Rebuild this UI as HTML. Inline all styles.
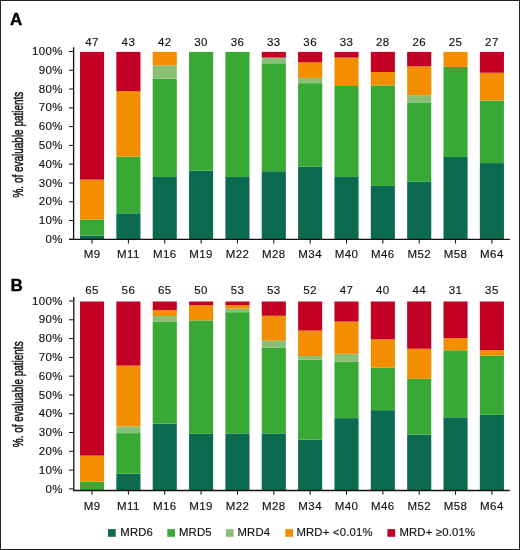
<!DOCTYPE html>
<html><head><meta charset="utf-8"><style>
html,body{margin:0;padding:0;background:#fff;}
body{width:520px;height:550px;overflow:hidden;}
svg{display:block;will-change:transform;}
text{font-family:"Liberation Sans",sans-serif;fill:#111;stroke:#111;stroke-width:0.15px;}
.c{font-size:11.5px;text-anchor:middle;letter-spacing:0.4px;}
.y{font-size:11.5px;text-anchor:end;letter-spacing:0.35px;}
.g{font-size:11.3px;letter-spacing:0.2px;}
.t{font-size:14.8px;text-anchor:middle;stroke:#111;stroke-width:0.5px;}
.L{font-size:17px;font-weight:bold;fill:#000;stroke:#000;stroke-width:0.35px;}
</style></head><body>
<svg width="520" height="550" viewBox="0 0 520 550">
<rect x="0" y="0" width="520" height="550" fill="#fff"/>
<rect x="80.00" y="235.51" width="24.1" height="3.99" fill="#0b6a50"/>
<rect x="80.00" y="219.54" width="24.1" height="15.97" fill="#37a934"/>
<rect x="80.00" y="179.63" width="24.1" height="39.91" fill="#f28e00"/>
<rect x="80.00" y="51.90" width="24.1" height="127.73" fill="#c10024"/>
<text x="92.05" y="45.8" class="c">47</text>
<text x="92.05" y="258.2" class="c">M9</text>
<line x1="92.05" y1="239.3" x2="92.05" y2="243.60000000000002" stroke="#111" stroke-width="1"/>
<rect x="116.35" y="213.32" width="24.1" height="26.18" fill="#0b6a50"/>
<rect x="116.35" y="156.61" width="24.1" height="56.72" fill="#37a934"/>
<rect x="116.35" y="91.17" width="24.1" height="65.44" fill="#f28e00"/>
<rect x="116.35" y="51.90" width="24.1" height="39.27" fill="#c10024"/>
<text x="128.40" y="45.8" class="c">43</text>
<text x="128.40" y="258.2" class="c">M11</text>
<line x1="128.40" y1="239.3" x2="128.40" y2="243.60000000000002" stroke="#111" stroke-width="1"/>
<rect x="152.70" y="176.97" width="24.1" height="62.53" fill="#0b6a50"/>
<rect x="152.70" y="78.70" width="24.1" height="98.27" fill="#37a934"/>
<rect x="152.70" y="65.30" width="24.1" height="13.40" fill="#88c176"/>
<rect x="152.70" y="51.90" width="24.1" height="13.40" fill="#f28e00"/>
<text x="164.75" y="45.8" class="c">42</text>
<text x="164.75" y="258.2" class="c">M16</text>
<line x1="164.75" y1="239.3" x2="164.75" y2="243.60000000000002" stroke="#111" stroke-width="1"/>
<rect x="189.05" y="170.71" width="24.1" height="68.79" fill="#0b6a50"/>
<rect x="189.05" y="51.90" width="24.1" height="118.81" fill="#37a934"/>
<text x="201.10" y="45.8" class="c">30</text>
<text x="201.10" y="258.2" class="c">M19</text>
<line x1="201.10" y1="239.3" x2="201.10" y2="243.60000000000002" stroke="#111" stroke-width="1"/>
<rect x="225.40" y="176.97" width="24.1" height="62.53" fill="#0b6a50"/>
<rect x="225.40" y="51.90" width="24.1" height="125.07" fill="#37a934"/>
<text x="237.45" y="45.8" class="c">36</text>
<text x="237.45" y="258.2" class="c">M22</text>
<line x1="237.45" y1="239.3" x2="237.45" y2="243.60000000000002" stroke="#111" stroke-width="1"/>
<rect x="261.75" y="171.28" width="24.1" height="68.22" fill="#0b6a50"/>
<rect x="261.75" y="63.27" width="24.1" height="108.01" fill="#37a934"/>
<rect x="261.75" y="57.58" width="24.1" height="5.68" fill="#88c176"/>
<rect x="261.75" y="51.90" width="24.1" height="5.68" fill="#c10024"/>
<text x="273.80" y="45.8" class="c">33</text>
<text x="273.80" y="258.2" class="c">M28</text>
<line x1="273.80" y1="239.3" x2="273.80" y2="243.60000000000002" stroke="#111" stroke-width="1"/>
<rect x="298.10" y="166.54" width="24.1" height="72.96" fill="#0b6a50"/>
<rect x="298.10" y="83.17" width="24.1" height="83.38" fill="#37a934"/>
<rect x="298.10" y="77.96" width="24.1" height="5.21" fill="#88c176"/>
<rect x="298.10" y="62.32" width="24.1" height="15.63" fill="#f28e00"/>
<rect x="298.10" y="51.90" width="24.1" height="10.42" fill="#c10024"/>
<text x="310.15" y="45.8" class="c">36</text>
<text x="310.15" y="258.2" class="c">M34</text>
<line x1="310.15" y1="239.3" x2="310.15" y2="243.60000000000002" stroke="#111" stroke-width="1"/>
<rect x="334.45" y="176.97" width="24.1" height="62.53" fill="#0b6a50"/>
<rect x="334.45" y="86.01" width="24.1" height="90.96" fill="#37a934"/>
<rect x="334.45" y="57.58" width="24.1" height="28.42" fill="#f28e00"/>
<rect x="334.45" y="51.90" width="24.1" height="5.68" fill="#c10024"/>
<text x="346.50" y="45.8" class="c">33</text>
<text x="346.50" y="258.2" class="c">M40</text>
<line x1="346.50" y1="239.3" x2="346.50" y2="243.60000000000002" stroke="#111" stroke-width="1"/>
<rect x="370.80" y="185.90" width="24.1" height="53.60" fill="#0b6a50"/>
<rect x="370.80" y="85.40" width="24.1" height="100.50" fill="#37a934"/>
<rect x="370.80" y="72.00" width="24.1" height="13.40" fill="#f28e00"/>
<rect x="370.80" y="51.90" width="24.1" height="20.10" fill="#c10024"/>
<text x="382.85" y="45.8" class="c">28</text>
<text x="382.85" y="258.2" class="c">M46</text>
<line x1="382.85" y1="239.3" x2="382.85" y2="243.60000000000002" stroke="#111" stroke-width="1"/>
<rect x="407.15" y="181.78" width="24.1" height="57.72" fill="#0b6a50"/>
<rect x="407.15" y="102.41" width="24.1" height="79.37" fill="#37a934"/>
<rect x="407.15" y="95.19" width="24.1" height="7.22" fill="#88c176"/>
<rect x="407.15" y="66.33" width="24.1" height="28.86" fill="#f28e00"/>
<rect x="407.15" y="51.90" width="24.1" height="14.43" fill="#c10024"/>
<text x="419.20" y="45.8" class="c">26</text>
<text x="419.20" y="258.2" class="c">M52</text>
<line x1="419.20" y1="239.3" x2="419.20" y2="243.60000000000002" stroke="#111" stroke-width="1"/>
<rect x="443.50" y="156.96" width="24.1" height="82.54" fill="#0b6a50"/>
<rect x="443.50" y="66.91" width="24.1" height="90.05" fill="#37a934"/>
<rect x="443.50" y="51.90" width="24.1" height="15.01" fill="#f28e00"/>
<text x="455.55" y="45.8" class="c">25</text>
<text x="455.55" y="258.2" class="c">M58</text>
<line x1="455.55" y1="239.3" x2="455.55" y2="243.60000000000002" stroke="#111" stroke-width="1"/>
<rect x="479.85" y="163.07" width="24.1" height="76.43" fill="#0b6a50"/>
<rect x="479.85" y="100.54" width="24.1" height="62.53" fill="#37a934"/>
<rect x="479.85" y="72.74" width="24.1" height="27.79" fill="#f28e00"/>
<rect x="479.85" y="51.90" width="24.1" height="20.84" fill="#c10024"/>
<text x="491.90" y="45.8" class="c">27</text>
<text x="491.90" y="258.2" class="c">M64</text>
<line x1="491.90" y1="239.3" x2="491.90" y2="243.60000000000002" stroke="#111" stroke-width="1"/>
<line x1="69" y1="239.30" x2="73.6" y2="239.30" stroke="#111" stroke-width="1"/>
<text x="62.8" y="242.90" class="y">0%</text>
<line x1="69" y1="220.52" x2="73.6" y2="220.52" stroke="#111" stroke-width="1"/>
<text x="62.8" y="224.12" class="y">10%</text>
<line x1="69" y1="201.74" x2="73.6" y2="201.74" stroke="#111" stroke-width="1"/>
<text x="62.8" y="205.34" class="y">20%</text>
<line x1="69" y1="182.96" x2="73.6" y2="182.96" stroke="#111" stroke-width="1"/>
<text x="62.8" y="186.56" class="y">30%</text>
<line x1="69" y1="164.18" x2="73.6" y2="164.18" stroke="#111" stroke-width="1"/>
<text x="62.8" y="167.78" class="y">40%</text>
<line x1="69" y1="145.40" x2="73.6" y2="145.40" stroke="#111" stroke-width="1"/>
<text x="62.8" y="149.00" class="y">50%</text>
<line x1="69" y1="126.62" x2="73.6" y2="126.62" stroke="#111" stroke-width="1"/>
<text x="62.8" y="130.22" class="y">60%</text>
<line x1="69" y1="107.84" x2="73.6" y2="107.84" stroke="#111" stroke-width="1"/>
<text x="62.8" y="111.44" class="y">70%</text>
<line x1="69" y1="89.06" x2="73.6" y2="89.06" stroke="#111" stroke-width="1"/>
<text x="62.8" y="92.66" class="y">80%</text>
<line x1="69" y1="70.28" x2="73.6" y2="70.28" stroke="#111" stroke-width="1"/>
<text x="62.8" y="73.88" class="y">90%</text>
<line x1="69" y1="51.50" x2="73.6" y2="51.50" stroke="#111" stroke-width="1"/>
<text x="62.8" y="55.10" class="y">100%</text>
<line x1="73.6" y1="47.3" x2="73.6" y2="239.9" stroke="#111" stroke-width="1.3"/>
<line x1="69" y1="239.3" x2="509.8" y2="239.3" stroke="#111" stroke-width="1.3"/>
<text transform="translate(22.6 144.6) rotate(-90) scale(0.674 1)" class="t">%. of evaluable patients</text>
<text x="10" y="25.1" class="L">A</text>
<rect x="80.00" y="481.78" width="24.1" height="8.72" fill="#37a934"/>
<rect x="80.00" y="455.61" width="24.1" height="26.17" fill="#f28e00"/>
<rect x="80.00" y="301.50" width="24.1" height="154.11" fill="#c10024"/>
<text x="92.05" y="293.9" class="c">65</text>
<text x="92.05" y="509.6" class="c">M9</text>
<line x1="92.05" y1="490.5" x2="92.05" y2="494.8" stroke="#111" stroke-width="1"/>
<rect x="116.35" y="473.62" width="24.1" height="16.88" fill="#0b6a50"/>
<rect x="116.35" y="433.12" width="24.1" height="40.50" fill="#37a934"/>
<rect x="116.35" y="426.38" width="24.1" height="6.75" fill="#88c176"/>
<rect x="116.35" y="365.62" width="24.1" height="60.75" fill="#f28e00"/>
<rect x="116.35" y="301.50" width="24.1" height="64.12" fill="#c10024"/>
<text x="128.40" y="293.9" class="c">56</text>
<text x="128.40" y="509.6" class="c">M11</text>
<line x1="128.40" y1="490.5" x2="128.40" y2="494.8" stroke="#111" stroke-width="1"/>
<rect x="152.70" y="423.62" width="24.1" height="66.88" fill="#0b6a50"/>
<rect x="152.70" y="321.85" width="24.1" height="101.77" fill="#37a934"/>
<rect x="152.70" y="316.04" width="24.1" height="5.82" fill="#88c176"/>
<rect x="152.70" y="310.22" width="24.1" height="5.82" fill="#f28e00"/>
<rect x="152.70" y="301.50" width="24.1" height="8.72" fill="#c10024"/>
<text x="164.75" y="293.9" class="c">65</text>
<text x="164.75" y="509.6" class="c">M16</text>
<line x1="164.75" y1="490.5" x2="164.75" y2="494.8" stroke="#111" stroke-width="1"/>
<rect x="189.05" y="433.80" width="24.1" height="56.70" fill="#0b6a50"/>
<rect x="189.05" y="320.40" width="24.1" height="113.40" fill="#37a934"/>
<rect x="189.05" y="305.28" width="24.1" height="15.12" fill="#f28e00"/>
<rect x="189.05" y="301.50" width="24.1" height="3.78" fill="#c10024"/>
<text x="201.10" y="293.9" class="c">50</text>
<text x="201.10" y="509.6" class="c">M19</text>
<line x1="201.10" y1="490.5" x2="201.10" y2="494.8" stroke="#111" stroke-width="1"/>
<rect x="225.40" y="433.44" width="24.1" height="57.06" fill="#0b6a50"/>
<rect x="225.40" y="312.20" width="24.1" height="121.25" fill="#37a934"/>
<rect x="225.40" y="308.63" width="24.1" height="3.57" fill="#88c176"/>
<rect x="225.40" y="305.07" width="24.1" height="3.57" fill="#f28e00"/>
<rect x="225.40" y="301.50" width="24.1" height="3.57" fill="#c10024"/>
<text x="237.45" y="293.9" class="c">53</text>
<text x="237.45" y="509.6" class="c">M22</text>
<line x1="237.45" y1="490.5" x2="237.45" y2="494.8" stroke="#111" stroke-width="1"/>
<rect x="261.75" y="433.44" width="24.1" height="57.06" fill="#0b6a50"/>
<rect x="261.75" y="347.86" width="24.1" height="85.58" fill="#37a934"/>
<rect x="261.75" y="340.73" width="24.1" height="7.13" fill="#88c176"/>
<rect x="261.75" y="315.76" width="24.1" height="24.96" fill="#f28e00"/>
<rect x="261.75" y="301.50" width="24.1" height="14.26" fill="#c10024"/>
<text x="273.80" y="293.9" class="c">53</text>
<text x="273.80" y="509.6" class="c">M28</text>
<line x1="273.80" y1="490.5" x2="273.80" y2="494.8" stroke="#111" stroke-width="1"/>
<rect x="298.10" y="439.62" width="24.1" height="50.88" fill="#0b6a50"/>
<rect x="298.10" y="359.65" width="24.1" height="79.96" fill="#37a934"/>
<rect x="298.10" y="356.02" width="24.1" height="3.63" fill="#88c176"/>
<rect x="298.10" y="330.58" width="24.1" height="25.44" fill="#f28e00"/>
<rect x="298.10" y="301.50" width="24.1" height="29.08" fill="#c10024"/>
<text x="310.15" y="293.9" class="c">52</text>
<text x="310.15" y="509.6" class="c">M34</text>
<line x1="310.15" y1="490.5" x2="310.15" y2="494.8" stroke="#111" stroke-width="1"/>
<rect x="334.45" y="418.12" width="24.1" height="72.38" fill="#0b6a50"/>
<rect x="334.45" y="361.82" width="24.1" height="56.30" fill="#37a934"/>
<rect x="334.45" y="353.78" width="24.1" height="8.04" fill="#88c176"/>
<rect x="334.45" y="321.61" width="24.1" height="32.17" fill="#f28e00"/>
<rect x="334.45" y="301.50" width="24.1" height="20.11" fill="#c10024"/>
<text x="346.50" y="293.9" class="c">47</text>
<text x="346.50" y="509.6" class="c">M40</text>
<line x1="346.50" y1="490.5" x2="346.50" y2="494.8" stroke="#111" stroke-width="1"/>
<rect x="370.80" y="410.18" width="24.1" height="80.33" fill="#0b6a50"/>
<rect x="370.80" y="367.65" width="24.1" height="42.52" fill="#37a934"/>
<rect x="370.80" y="339.30" width="24.1" height="28.35" fill="#f28e00"/>
<rect x="370.80" y="301.50" width="24.1" height="37.80" fill="#c10024"/>
<text x="382.85" y="293.9" class="c">40</text>
<text x="382.85" y="509.6" class="c">M46</text>
<line x1="382.85" y1="490.5" x2="382.85" y2="494.8" stroke="#111" stroke-width="1"/>
<rect x="407.15" y="434.66" width="24.1" height="55.84" fill="#0b6a50"/>
<rect x="407.15" y="378.82" width="24.1" height="55.84" fill="#37a934"/>
<rect x="407.15" y="348.75" width="24.1" height="30.07" fill="#f28e00"/>
<rect x="407.15" y="301.50" width="24.1" height="47.25" fill="#c10024"/>
<text x="419.20" y="293.9" class="c">44</text>
<text x="419.20" y="509.6" class="c">M52</text>
<line x1="419.20" y1="490.5" x2="419.20" y2="494.8" stroke="#111" stroke-width="1"/>
<rect x="443.50" y="417.34" width="24.1" height="73.16" fill="#0b6a50"/>
<rect x="443.50" y="350.27" width="24.1" height="67.06" fill="#37a934"/>
<rect x="443.50" y="338.08" width="24.1" height="12.19" fill="#f28e00"/>
<rect x="443.50" y="301.50" width="24.1" height="36.58" fill="#c10024"/>
<text x="455.55" y="293.9" class="c">31</text>
<text x="455.55" y="509.6" class="c">M58</text>
<line x1="455.55" y1="490.5" x2="455.55" y2="494.8" stroke="#111" stroke-width="1"/>
<rect x="479.85" y="414.90" width="24.1" height="75.60" fill="#0b6a50"/>
<rect x="479.85" y="355.50" width="24.1" height="59.40" fill="#37a934"/>
<rect x="479.85" y="350.10" width="24.1" height="5.40" fill="#f28e00"/>
<rect x="479.85" y="301.50" width="24.1" height="48.60" fill="#c10024"/>
<text x="491.90" y="293.9" class="c">35</text>
<text x="491.90" y="509.6" class="c">M64</text>
<line x1="491.90" y1="490.5" x2="491.90" y2="494.8" stroke="#111" stroke-width="1"/>
<line x1="69" y1="488.90" x2="73.8" y2="488.90" stroke="#111" stroke-width="1"/>
<text x="62.8" y="492.50" class="y">0%</text>
<line x1="69" y1="470.11" x2="73.8" y2="470.11" stroke="#111" stroke-width="1"/>
<text x="62.8" y="473.71" class="y">10%</text>
<line x1="69" y1="451.32" x2="73.8" y2="451.32" stroke="#111" stroke-width="1"/>
<text x="62.8" y="454.92" class="y">20%</text>
<line x1="69" y1="432.53" x2="73.8" y2="432.53" stroke="#111" stroke-width="1"/>
<text x="62.8" y="436.13" class="y">30%</text>
<line x1="69" y1="413.74" x2="73.8" y2="413.74" stroke="#111" stroke-width="1"/>
<text x="62.8" y="417.34" class="y">40%</text>
<line x1="69" y1="394.95" x2="73.8" y2="394.95" stroke="#111" stroke-width="1"/>
<text x="62.8" y="398.55" class="y">50%</text>
<line x1="69" y1="376.16" x2="73.8" y2="376.16" stroke="#111" stroke-width="1"/>
<text x="62.8" y="379.76" class="y">60%</text>
<line x1="69" y1="357.37" x2="73.8" y2="357.37" stroke="#111" stroke-width="1"/>
<text x="62.8" y="360.97" class="y">70%</text>
<line x1="69" y1="338.58" x2="73.8" y2="338.58" stroke="#111" stroke-width="1"/>
<text x="62.8" y="342.18" class="y">80%</text>
<line x1="69" y1="319.79" x2="73.8" y2="319.79" stroke="#111" stroke-width="1"/>
<text x="62.8" y="323.39" class="y">90%</text>
<line x1="69" y1="301.00" x2="73.8" y2="301.00" stroke="#111" stroke-width="1"/>
<text x="62.8" y="304.60" class="y">100%</text>
<line x1="73.8" y1="297" x2="73.8" y2="491.1" stroke="#111" stroke-width="1.3"/>
<line x1="73" y1="490.5" x2="509.8" y2="490.5" stroke="#111" stroke-width="1.3"/>
<text transform="translate(22.6 394.3) rotate(-90) scale(0.674 1)" class="t">%. of evaluable patients</text>
<text x="10.6" y="290.8" class="L">B</text>
<rect x="108.0" y="529.1" width="7.7" height="7.7" fill="#0b6a50"/>
<text x="120.3" y="536.4" class="g">MRD6</text>
<rect x="167.3" y="529.1" width="7.7" height="7.7" fill="#37a934"/>
<text x="179.0" y="536.4" class="g">MRD5</text>
<rect x="225.9" y="529.1" width="7.7" height="7.7" fill="#88c176"/>
<text x="237.5" y="536.4" class="g">MRD4</text>
<rect x="285.3" y="529.1" width="7.7" height="7.7" fill="#f28e00"/>
<text x="296.4" y="536.4" class="g">MRD+ &lt;0.01%</text>
<rect x="387.4" y="529.1" width="7.7" height="7.7" fill="#c10024"/>
<text x="399.4" y="536.4" class="g">MRD+ ≥0.01%</text>
<rect x="0.5" y="0.5" width="519" height="549" fill="none" stroke="#222" stroke-width="1"/>
</svg>
</body></html>
